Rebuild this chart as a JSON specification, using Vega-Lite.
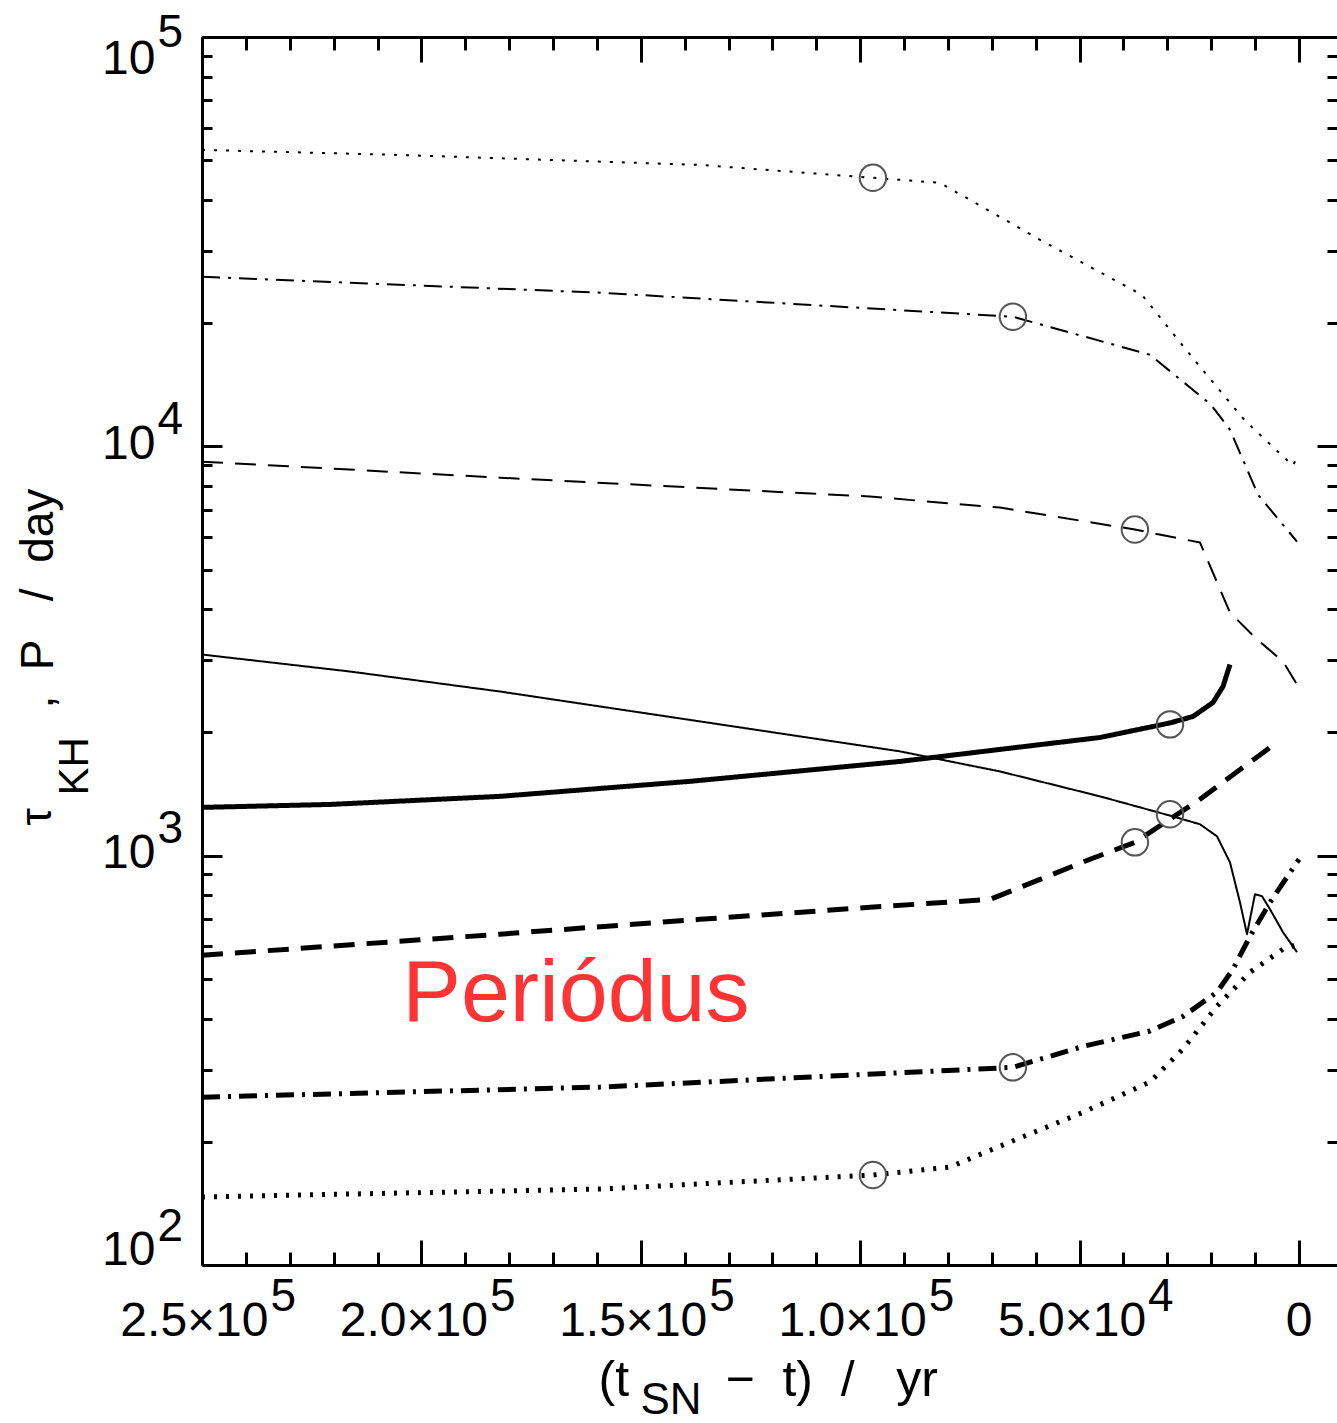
{
  "$schema": "https://vega.github.io/schema/vega-lite/v6.json",
  "width": 1135,
  "height": 1228,
  "autosize": {"type": "none"},
  "padding": {"left": 202, "top": 37, "right": 0, "bottom": 158},
  "background": "white",
  "config": {
    "view": {"stroke": null},
    "font": "Liberation Sans",
    "axis": {
      "grid": false,
      "domainColor": "black",
      "domainWidth": 3,
      "tickColor": "black",
      "tickWidth": 3,
      "labelColor": "black",
      "labelFont": "Liberation Sans",
      "labelFontSize": 48,
      "labelOverlap": false,
      "labelBound": false,
      "titleFont": "Liberation Sans",
      "titleFontWeight": "normal",
      "titleColor": "black",
      "titleFontSize": 44
    }
  },
  "datasets": {
    "lines": [
      {"model": "m1", "quantity": "tau_KH", "t": 250000, "value": 52990},
      {"model": "m1", "quantity": "tau_KH", "t": 204900, "value": 51500},
      {"model": "m1", "quantity": "tau_KH", "t": 136500, "value": 48690},
      {"model": "m1", "quantity": "tau_KH", "t": 97100, "value": 45290},
      {"model": "m1", "quantity": "tau_KH", "t": 81800, "value": 44020},
      {"model": "m1", "quantity": "tau_KH", "t": 59000, "value": 31950},
      {"model": "m1", "quantity": "tau_KH", "t": 35800, "value": 23450},
      {"model": "m1", "quantity": "tau_KH", "t": 23900, "value": 16280},
      {"model": "m1", "quantity": "tau_KH", "t": 12300, "value": 11550},
      {"model": "m1", "quantity": "tau_KH", "t": 1400, "value": 8970},
      {"model": "m1", "quantity": "tau_KH", "t": 200, "value": 9500},

      {"model": "m2", "quantity": "tau_KH", "t": 250000, "value": 25950},
      {"model": "m2", "quantity": "tau_KH", "t": 159300, "value": 23730},
      {"model": "m2", "quantity": "tau_KH", "t": 65200, "value": 20730},
      {"model": "m2", "quantity": "tau_KH", "t": 33960, "value": 16740},
      {"model": "m2", "quantity": "tau_KH", "t": 20060, "value": 12640},
      {"model": "m2", "quantity": "tau_KH", "t": 15730, "value": 10980},
      {"model": "m2", "quantity": "tau_KH", "t": 9340, "value": 7620},
      {"model": "m2", "quantity": "tau_KH", "t": 460, "value": 5850},

      {"model": "m3", "quantity": "tau_KH", "t": 250000, "value": 9174},
      {"model": "m3", "quantity": "tau_KH", "t": 182100, "value": 8384},
      {"model": "m3", "quantity": "tau_KH", "t": 97770, "value": 7538},
      {"model": "m3", "quantity": "tau_KH", "t": 68140, "value": 7086},
      {"model": "m3", "quantity": "tau_KH", "t": 37400, "value": 6262},
      {"model": "m3", "quantity": "tau_KH", "t": 22560, "value": 5820},
      {"model": "m3", "quantity": "tau_KH", "t": 15730, "value": 3926},
      {"model": "m3", "quantity": "tau_KH", "t": 9570, "value": 3375},
      {"model": "m3", "quantity": "tau_KH", "t": 3650, "value": 2982},
      {"model": "m3", "quantity": "tau_KH", "t": 460, "value": 2620},

      {"model": "m4", "quantity": "tau_KH", "t": 250000, "value": 3100},
      {"model": "m4", "quantity": "tau_KH", "t": 216300, "value": 2818},
      {"model": "m4", "quantity": "tau_KH", "t": 182100, "value": 2518},
      {"model": "m4", "quantity": "tau_KH", "t": 136500, "value": 2128},
      {"model": "m4", "quantity": "tau_KH", "t": 90930, "value": 1798},
      {"model": "m4", "quantity": "tau_KH", "t": 68140, "value": 1606},
      {"model": "m4", "quantity": "tau_KH", "t": 45350, "value": 1396},
      {"model": "m4", "quantity": "tau_KH", "t": 28720, "value": 1247},
      {"model": "m4", "quantity": "tau_KH", "t": 22560, "value": 1193},
      {"model": "m4", "quantity": "tau_KH", "t": 18690, "value": 1115},
      {"model": "m4", "quantity": "tau_KH", "t": 15730, "value": 963},
      {"model": "m4", "quantity": "tau_KH", "t": 13450, "value": 769},
      {"model": "m4", "quantity": "tau_KH", "t": 11850, "value": 643},
      {"model": "m4", "quantity": "tau_KH", "t": 10030, "value": 805},
      {"model": "m4", "quantity": "tau_KH", "t": 8430, "value": 796},
      {"model": "m4", "quantity": "tau_KH", "t": 6610, "value": 740},
      {"model": "m4", "quantity": "tau_KH", "t": 3650, "value": 650},
      {"model": "m4", "quantity": "tau_KH", "t": 460, "value": 581},

      {"model": "m4", "quantity": "P", "t": 250000, "value": 1312},
      {"model": "m4", "quantity": "P", "t": 220800, "value": 1334},
      {"model": "m4", "quantity": "P", "t": 182100, "value": 1396},
      {"model": "m4", "quantity": "P", "t": 138800, "value": 1519},
      {"model": "m4", "quantity": "P", "t": 90930, "value": 1699},
      {"model": "m4", "quantity": "P", "t": 68140, "value": 1818},
      {"model": "m4", "quantity": "P", "t": 45350, "value": 1944},
      {"model": "m4", "quantity": "P", "t": 29400, "value": 2110},
      {"model": "m4", "quantity": "P", "t": 24160, "value": 2188},
      {"model": "m4", "quantity": "P", "t": 19600, "value": 2367},
      {"model": "m4", "quantity": "P", "t": 17320, "value": 2590},
      {"model": "m4", "quantity": "P", "t": 15730, "value": 2931},

      {"model": "m3", "quantity": "P", "t": 250000, "value": 571},
      {"model": "m3", "quantity": "P", "t": 182100, "value": 643},
      {"model": "m3", "quantity": "P", "t": 136500, "value": 699},
      {"model": "m3", "quantity": "P", "t": 97770, "value": 748},
      {"model": "m3", "quantity": "P", "t": 70420, "value": 782},
      {"model": "m3", "quantity": "P", "t": 59030, "value": 875},
      {"model": "m3", "quantity": "P", "t": 47630, "value": 980},
      {"model": "m3", "quantity": "P", "t": 37400, "value": 1078},
      {"model": "m3", "quantity": "P", "t": 22560, "value": 1373},
      {"model": "m3", "quantity": "P", "t": 6610, "value": 1838},

      {"model": "m2", "quantity": "P", "t": 250000, "value": 257},
      {"model": "m2", "quantity": "P", "t": 159300, "value": 272},
      {"model": "m2", "quantity": "P", "t": 65200, "value": 304},
      {"model": "m2", "quantity": "P", "t": 49230, "value": 342},
      {"model": "m2", "quantity": "P", "t": 33960, "value": 373},
      {"model": "m2", "quantity": "P", "t": 26440, "value": 405},
      {"model": "m2", "quantity": "P", "t": 18690, "value": 464},
      {"model": "m2", "quantity": "P", "t": 15040, "value": 528},
      {"model": "m2", "quantity": "P", "t": 11170, "value": 635},
      {"model": "m2", "quantity": "P", "t": 6610, "value": 769},
      {"model": "m2", "quantity": "P", "t": 0, "value": 980},

      {"model": "m1", "quantity": "P", "t": 250000, "value": 146.6},
      {"model": "m1", "quantity": "P", "t": 159300, "value": 153.3},
      {"model": "m1", "quantity": "P", "t": 97100, "value": 165.9},
      {"model": "m1", "quantity": "P", "t": 79540, "value": 173.5},
      {"model": "m1", "quantity": "P", "t": 64270, "value": 203},
      {"model": "m1", "quantity": "P", "t": 49230, "value": 236},
      {"model": "m1", "quantity": "P", "t": 33960, "value": 280},
      {"model": "m1", "quantity": "P", "t": 26440, "value": 337},
      {"model": "m1", "quantity": "P", "t": 18690, "value": 429},
      {"model": "m1", "quantity": "P", "t": 11170, "value": 519},
      {"model": "m1", "quantity": "P", "t": 3650, "value": 591},
      {"model": "m1", "quantity": "P", "t": 230, "value": 608}
    ],
    "markers": [
      {"model": "m1", "quantity": "tau_KH", "t": 97100, "value": 45290},
      {"model": "m2", "quantity": "tau_KH", "t": 65200, "value": 20730},
      {"model": "m3", "quantity": "tau_KH", "t": 37400, "value": 6262},
      {"model": "m4", "quantity": "tau_KH", "t": 29400, "value": 1262},
      {"model": "m4", "quantity": "P", "t": 29400, "value": 2093},
      {"model": "m3", "quantity": "P", "t": 37400, "value": 1078},
      {"model": "m2", "quantity": "P", "t": 65200, "value": 304},
      {"model": "m1", "quantity": "P", "t": 97100, "value": 165.9}
    ],
    "notes": [
      {"label": "Periódus", "t": 164800, "value": 394}
    ]
  },
  "resolve": {"axis": {"x": "independent", "y": "independent"}},
  "layer": [
    {
      "data": {"name": "lines"},
      "mark": {"type": "line", "color": "black", "strokeCap": "butt", "strokeJoin": "round"},
      "encoding": {
        "x": {
          "field": "t", "type": "quantitative",
          "scale": {"domain": [250000, -8660], "nice": false, "zero": false},
          "axis": {
            "orient": "bottom",
            "values": [0, 50000, 100000, 150000, 200000, 250000],
            "ticks": false, "domain": false,
            "labelExpr": "datum.value === 0 ? '0' : format(datum.value / (datum.value >= 100000 ? 100000 : 10000), '.1f') + '×10'",
            "labelAlign": "right",
            "labelBaseline": "alphabetic",
            "labelPadding": 70,
            "labelFlush": false,
            "labelOffset": {"condition": {"test": "datum.value === 0", "value": 13}, "value": 66},
            "title": "(t",
            "titleX": 396, "titleY": 130,
            "titleAlign": "left", "titleBaseline": "alphabetic", "titleAngle": 0,
            "titleFontSize": 50
          }
        },
        "y": {
          "field": "value", "type": "quantitative",
          "scale": {"type": "log", "domain": [100, 100000], "nice": false},
          "axis": {
            "orient": "left",
            "values": [100, 1000, 10000, 100000],
            "ticks": false, "domain": false,
            "labelExpr": "'10'",
            "labelAlign": "right",
            "labelPadding": 47,
            "labelFlush": true,
            "labelOffset": {"condition": {"test": "datum.value === 100", "value": 9}, "value": -2},
            "title": "τ",
            "titleX": -152, "titleY": 788,
            "titleAngle": -90, "titleAlign": "left", "titleBaseline": "alphabetic",
            "titleFontSize": 44
          }
        },
        "strokeDash": {
          "field": "model", "type": "nominal",
          "scale": {"domain": ["m1", "m2", "m3", "m4"], "range": [[3, 9], [18, 8, 3, 8], [21, 12], [1, 0]]},
          "legend": null
        },
        "strokeWidth": {
          "field": "quantity", "type": "nominal",
          "scale": {"type": "ordinal", "domain": ["tau_KH", "P"], "range": [2, 5]},
          "legend": null
        }
      }
    },
    {
      "data": {"name": "markers"},
      "mark": {"type": "point", "shape": "circle", "filled": false, "size": 700, "stroke": "#555555", "strokeWidth": 2, "opacity": 1},
      "encoding": {
        "x": {
          "field": "t", "type": "quantitative",
          "scale": {"domain": [250000, -8660], "nice": false, "zero": false},
          "axis": {
            "orient": "bottom",
            "values": [0, 50000, 100000, 150000, 200000, 250000],
            "ticks": false, "domain": false,
            "labelExpr": "datum.value >= 100000 ? '5' : (datum.value > 0 ? '4' : '')",
            "labelAlign": "left",
            "labelBaseline": "alphabetic",
            "labelPadding": 45,
            "labelFlush": false,
            "labelOffset": 68,
            "labelFontSize": 46,
            "title": "SN",
            "titleX": 438, "titleY": 148,
            "titleAlign": "left", "titleBaseline": "alphabetic", "titleAngle": 0
          }
        },
        "y": {
          "field": "value", "type": "quantitative",
          "scale": {"type": "log", "domain": [100, 100000], "nice": false},
          "axis": {
            "orient": "left",
            "values": [100, 1000, 10000, 100000],
            "ticks": false, "domain": false,
            "labelExpr": "toString(round(log(datum.value) / LN10))",
            "labelAlign": "left",
            "labelPadding": 45,
            "labelOffset": {"condition": {"test": "datum.value === 100", "value": -15}, "value": -27},
            "labelFlush": true,
            "labelFontSize": 46,
            "title": "KH",
            "titleX": -115, "titleY": 758,
            "titleAngle": -90, "titleAlign": "left", "titleBaseline": "alphabetic",
            "titleFontSize": 42
          }
        }
      }
    },
    {
      "data": {"name": "notes"},
      "mark": {"type": "text", "font": "Liberation Sans", "fontSize": 88, "color": "#fe3333", "align": "center", "baseline": "alphabetic"},
      "encoding": {
        "x": {
          "field": "t", "type": "quantitative",
          "scale": {"domain": [250000, -8660], "nice": false, "zero": false},
          "axis": {
            "orient": "bottom",
            "values": [0, 50000, 100000, 150000, 200000, 250000],
            "labels": false, "domain": true, "tickSize": -25,
            "title": "−\u00a0\u00a0t)\u00a0\u00a0/\u00a0\u00a0\u00a0yr",
            "titleX": 523, "titleY": 130,
            "titleAlign": "left", "titleBaseline": "alphabetic", "titleAngle": 0,
            "titleFontSize": 50
          }
        },
        "y": {
          "field": "value", "type": "quantitative",
          "scale": {"type": "log", "domain": [100, 100000], "nice": false},
          "axis": {
            "orient": "left",
            "values": [100, 1000, 10000, 100000],
            "labels": false, "domain": true, "tickSize": -20,
            "title": ",\u00a0\u00a0P\u00a0\u00a0\u00a0/\u00a0\u00a0day",
            "titleX": -150, "titleY": 671,
            "titleAngle": -90, "titleAlign": "left", "titleBaseline": "alphabetic",
            "titleFontSize": 46
          }
        },
        "text": {"field": "label", "type": "nominal"}
      }
    },
    {
      "data": {"name": "markers"},
      "mark": {"type": "point", "opacity": 0},
      "encoding": {
        "x": {
          "field": "t", "type": "quantitative",
          "scale": {"domain": [250000, -8660], "nice": false, "zero": false},
          "axis": {
            "orient": "bottom",
            "values": [10000, 20000, 30000, 40000, 60000, 70000, 80000, 90000, 110000, 120000, 130000, 140000, 160000, 170000, 180000, 190000, 210000, 220000, 230000, 240000],
            "labels": false, "domain": false, "tickSize": -13, "title": null
          }
        },
        "y": {
          "field": "value", "type": "quantitative",
          "scale": {"type": "log", "domain": [100, 100000], "nice": false},
          "axis": {
            "orient": "left",
            "values": [200, 300, 400, 500, 600, 700, 800, 900, 2000, 3000, 4000, 5000, 6000, 7000, 8000, 9000, 20000, 30000, 40000, 50000, 60000, 70000, 80000, 90000],
            "labels": false, "domain": false, "tickSize": -10, "title": null
          }
        }
      }
    },
    {
      "data": {"name": "markers"},
      "mark": {"type": "point", "opacity": 0},
      "encoding": {
        "x": {
          "field": "t", "type": "quantitative",
          "scale": {"domain": [250000, -8660], "nice": false, "zero": false},
          "axis": {
            "orient": "top",
            "values": [0, 50000, 100000, 150000, 200000, 250000],
            "labels": false, "domain": true, "tickSize": -25, "title": null
          }
        },
        "y": {
          "field": "value", "type": "quantitative",
          "scale": {"type": "log", "domain": [100, 100000], "nice": false},
          "axis": {
            "orient": "right",
            "values": [100, 1000, 10000, 100000],
            "labels": false, "domain": false, "tickSize": -20, "title": null
          }
        }
      }
    },
    {
      "data": {"name": "markers"},
      "mark": {"type": "point", "opacity": 0},
      "encoding": {
        "x": {
          "field": "t", "type": "quantitative",
          "scale": {"domain": [250000, -8660], "nice": false, "zero": false},
          "axis": {
            "orient": "top",
            "values": [10000, 20000, 30000, 40000, 60000, 70000, 80000, 90000, 110000, 120000, 130000, 140000, 160000, 170000, 180000, 190000, 210000, 220000, 230000, 240000],
            "labels": false, "domain": false, "tickSize": -13, "title": null
          }
        },
        "y": {
          "field": "value", "type": "quantitative",
          "scale": {"type": "log", "domain": [100, 100000], "nice": false},
          "axis": {
            "orient": "right",
            "values": [200, 300, 400, 500, 600, 700, 800, 900, 2000, 3000, 4000, 5000, 6000, 7000, 8000, 9000, 20000, 30000, 40000, 50000, 60000, 70000, 80000, 90000],
            "labels": false, "domain": false, "tickSize": -10, "title": null
          }
        }
      }
    }
  ]
}
